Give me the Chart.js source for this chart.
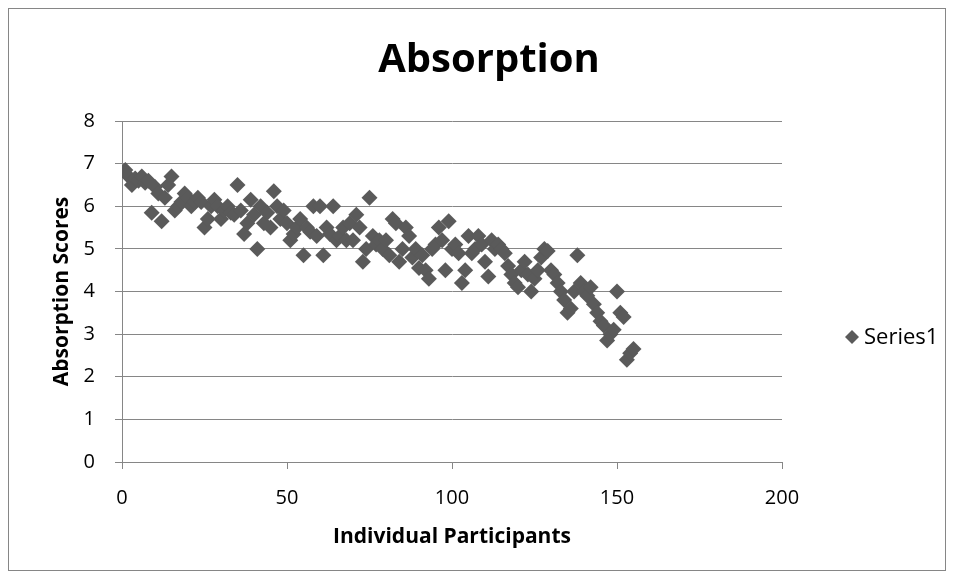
<!DOCTYPE html>
<html>
<head>
<meta charset="utf-8">
<script src="https://cdn.jsdelivr.net/npm/chart.js@4"></script>
<style>
  html, body { margin: 0; padding: 0; background: #fff; }
  #wrap { width: 954px; height: 579px; }
</style>
</head>
<body>
<div id="wrap"><canvas id="absorptionChart" width="954" height="579"></canvas></div>
<script>
const chartTitle = 'Absorption';
const seriesName = 'Series1';
const participants = [];
const scores = [
  6.85, 6.7, 6.5, 6.65, 6.6, 6.7, 6.55, 6.6, 5.85, 6.45,
  6.3, 5.65, 6.2, 6.5, 6.7, 5.9, 6.0, 6.1, 6.3, 6.2,
  6.0, 6.1, 6.2, 6.1, 5.5, 5.7, 6.0, 6.15, 6.0, 5.7,
  5.9, 6.0, 5.85, 5.8, 6.5, 5.9, 5.35, 5.6, 6.15, 5.8,
  5.0, 6.0, 5.6, 5.85, 5.5, 6.35, 6.0, 5.7, 5.9, 5.6,
  5.2, 5.35, 5.5, 5.7, 4.85, 5.5, 5.4, 6.0, 5.3, 6.0,
  4.85, 5.5, 5.35, 6.0, 5.2, 5.3, 5.5, 5.2, 5.6, 5.2,
  5.8, 5.5, 4.7, 5.0, 6.2, 5.3, 5.1, 5.2, 5.0, 5.2,
  4.85, 5.7, 5.6, 4.7, 5.0, 5.5, 5.3, 4.8, 5.0, 4.55,
  4.85, 4.5, 4.3, 5.0, 5.1, 5.5, 5.2, 4.5, 5.65, 5.0,
  5.1, 4.9, 4.2, 4.5, 5.3, 4.9, 5.0, 5.3, 5.1, 4.7,
  4.35, 5.2, 5.0, 5.1, 5.0, 4.9, 4.6, 4.4, 4.2, 4.1,
  4.5, 4.7, 4.4, 4.0, 4.3, 4.5, 4.8, 5.0, 4.95, 4.5,
  4.4, 4.2, 4.0, 3.8, 3.5, 3.6, 4.0, 4.85, 4.2, 4.0,
  3.9, 4.1, 3.7, 3.5, 3.3, 3.2, 2.85, 3.0, 3.1, 4.0,
  3.5, 3.4, 2.4, 2.55, 2.65
];
for (let i = 0; i < scores.length; i++) participants.push(i + 1);

const xTicks = [0, 50, 100, 150, 200];
const yTicks = [0, 1, 2, 3, 4, 5, 6, 7, 8];

const FONT = "'Open Sans', 'Liberation Sans', sans-serif";
const GRID = '#868686';
const MARK = '#5a5a5a';

// outer frame, title and side legend drawn like the spreadsheet chart
const decor = {
  id: 'decor',
  beforeDraw(chart) {
    const c = chart.ctx;
    c.save();
    c.fillStyle = '#fff';
    c.fillRect(0, 0, chart.width, chart.height);
    c.strokeStyle = GRID;
    c.lineWidth = 1;
    c.strokeRect(8.5, 8.5, chart.width - 17, chart.height - 17);
    c.restore();
  },
  afterDraw(chart) {
    const c = chart.ctx;
    c.save();
    c.fillStyle = '#000';
    c.font = 'bold 40px ' + FONT;
    c.textAlign = 'center';
    c.textBaseline = 'middle';
    c.fillText(chartTitle, 489, 61);

    const x = 852, y = 337, r = 7;
    c.fillStyle = MARK;
    c.beginPath();
    c.moveTo(x - r, y);
    c.lineTo(x, y - r);
    c.lineTo(x + r, y);
    c.lineTo(x, y + r);
    c.closePath();
    c.fill();
    c.fillStyle = '#000';
    c.font = '22px ' + FONT;
    c.textAlign = 'left';
    c.fillText(chart.data.datasets[0].label, x + 12, y + 1);
    c.restore();
  }
};

new Chart(document.getElementById('absorptionChart'), {
  type: 'scatter',
  data: {
    datasets: [{
      label: seriesName,
      data: participants.map((p, i) => ({ x: p, y: scores[i] })),
      pointStyle: 'rectRot',
      pointRadius: 8,
      pointHoverRadius: 8,
      backgroundColor: MARK,
      borderColor: MARK,
      borderWidth: 0
    }]
  },
  options: {
    responsive: false,
    animation: false,
    layout: { padding: { left: 47, right: 172, top: 121, bottom: 25 } },
    plugins: {
      legend: { display: false },
      tooltip: { enabled: false },
      title: { display: false }
    },
    scales: {
      x: {
        type: 'linear',
        min: xTicks[0],
        max: xTicks[xTicks.length - 1],
        afterBuildTicks(s) { s.ticks = xTicks.map(v => ({ value: v })); },
        afterFit(s) { s.height = 92; },
        grid: { drawOnChartArea: false, color: GRID, tickLength: 7, tickColor: GRID },
        border: { color: GRID, width: 1 },
        ticks: { color: '#000', padding: 17, font: { family: FONT, size: 20 } },
        title: {
          display: true,
          text: 'Individual Participants',
          color: '#000',
          padding: { top: 4, bottom: 4 },
          font: { family: FONT, size: 21, weight: 'bold' }
        }
      },
      y: {
        min: yTicks[0],
        max: yTicks[yTicks.length - 1],
        afterBuildTicks(s) { s.ticks = yTicks.map(v => ({ value: v })); },
        afterFit(s) { s.width = 75; },
        grid: { color: GRID, tickLength: 7, tickColor: GRID },
        border: { color: GRID, width: 1 },
        ticks: { color: '#000', padding: 20, font: { family: FONT, size: 20 } },
        title: {
          display: true,
          text: 'Absorption Scores',
          color: '#000',
          padding: { top: 2, bottom: 4 },
          font: { family: FONT, size: 21, weight: 'bold' }
        }
      }
    }
  },
  plugins: [decor]
});
</script>
</body>
</html>
